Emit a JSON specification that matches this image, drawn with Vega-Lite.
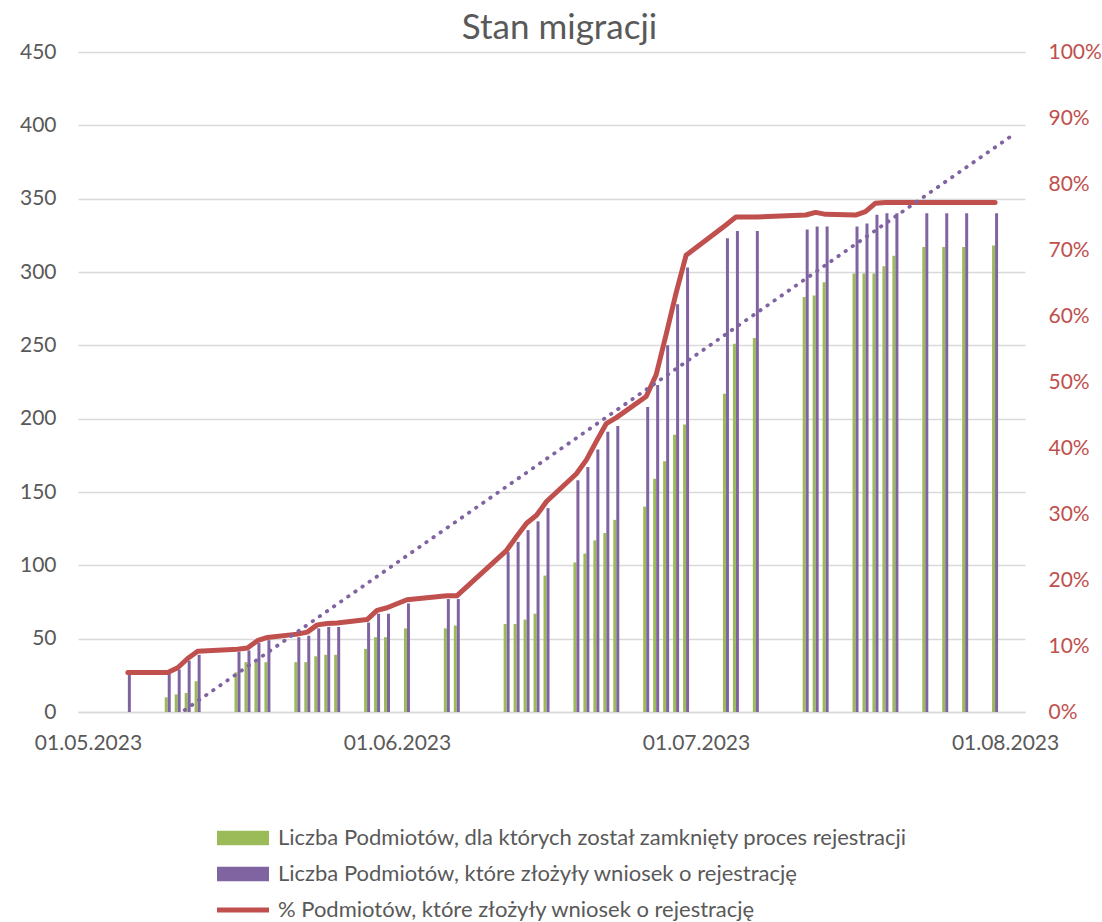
{
  "$schema": "https://vega.github.io/schema/vega-lite/v6.json",
  "autosize": "none",
  "width": 947,
  "height": 660,
  "padding": {"left": 78, "top": 52, "right": 77, "bottom": 210},
  "background": "white",
  "config": {
    "font": "Lato",
    "view": {"stroke": null},
    "axis": {"labelFont": "Lato", "labelColor": "#595959", "labelFontSize": 21, "ticks": false, "domain": false, "grid": false}
  },
  "title": {"text": "Stan migracji", "font": "Lato", "fontSize": 35, "fontWeight": "normal", "color": "#595959", "offset": -5, "anchor": "middle", "dx": 8},
  "data": {
    "format": {"parse": {"date": "date"}},
    "values": [
      {"date": "2023-05-05", "closed": 0, "submitted": 26, "pct": 0.060},
      {"date": "2023-05-09", "closed": 10, "submitted": 26, "pct": 0.060},
      {"date": "2023-05-10", "closed": 12, "submitted": 29, "pct": 0.067},
      {"date": "2023-05-11", "closed": 13, "submitted": 35, "pct": 0.081},
      {"date": "2023-05-12", "closed": 21, "submitted": 39, "pct": 0.092},
      {"date": "2023-05-16", "closed": 27, "submitted": 41, "pct": 0.095},
      {"date": "2023-05-17", "closed": 34, "submitted": 42, "pct": 0.097},
      {"date": "2023-05-18", "closed": 34, "submitted": 47, "pct": 0.108},
      {"date": "2023-05-19", "closed": 34, "submitted": 49, "pct": 0.113},
      {"date": "2023-05-22", "closed": 34, "submitted": 51, "pct": 0.118},
      {"date": "2023-05-23", "closed": 34, "submitted": 52, "pct": 0.121},
      {"date": "2023-05-24", "closed": 38, "submitted": 57, "pct": 0.132},
      {"date": "2023-05-25", "closed": 39, "submitted": 58, "pct": 0.134},
      {"date": "2023-05-26", "closed": 39, "submitted": 58, "pct": 0.135},
      {"date": "2023-05-29", "closed": 43, "submitted": 61, "pct": 0.140},
      {"date": "2023-05-30", "closed": 51, "submitted": 67, "pct": 0.154},
      {"date": "2023-05-31", "closed": 51, "submitted": 67, "pct": 0.158},
      {"date": "2023-06-02", "closed": 57, "submitted": 74, "pct": 0.170},
      {"date": "2023-06-06", "closed": 57, "submitted": 77, "pct": 0.176},
      {"date": "2023-06-07", "closed": 59, "submitted": 77, "pct": 0.176},
      {"date": "2023-06-12", "closed": 60, "submitted": 109, "pct": 0.245},
      {"date": "2023-06-13", "closed": 60, "submitted": 116, "pct": 0.266},
      {"date": "2023-06-14", "closed": 63, "submitted": 124, "pct": 0.286},
      {"date": "2023-06-15", "closed": 67, "submitted": 130, "pct": 0.298},
      {"date": "2023-06-16", "closed": 93, "submitted": 139, "pct": 0.319},
      {"date": "2023-06-19", "closed": 102, "submitted": 158, "pct": 0.361},
      {"date": "2023-06-20", "closed": 108, "submitted": 167, "pct": 0.382},
      {"date": "2023-06-21", "closed": 117, "submitted": 179, "pct": 0.410},
      {"date": "2023-06-22", "closed": 122, "submitted": 191, "pct": 0.437},
      {"date": "2023-06-23", "closed": 131, "submitted": 195, "pct": 0.446},
      {"date": "2023-06-26", "closed": 140, "submitted": 208, "pct": 0.478},
      {"date": "2023-06-27", "closed": 159, "submitted": 223, "pct": 0.511},
      {"date": "2023-06-28", "closed": 171, "submitted": 250, "pct": 0.572},
      {"date": "2023-06-29", "closed": 189, "submitted": 278, "pct": 0.635},
      {"date": "2023-06-30", "closed": 196, "submitted": 303, "pct": 0.692},
      {"date": "2023-07-04", "closed": 217, "submitted": 323, "pct": 0.738},
      {"date": "2023-07-05", "closed": 251, "submitted": 328, "pct": 0.750},
      {"date": "2023-07-07", "closed": 255, "submitted": 328, "pct": 0.750},
      {"date": "2023-07-12", "closed": 283, "submitted": 329, "pct": 0.753},
      {"date": "2023-07-13", "closed": 284, "submitted": 331, "pct": 0.757},
      {"date": "2023-07-14", "closed": 293, "submitted": 331, "pct": 0.754},
      {"date": "2023-07-17", "closed": 299, "submitted": 331, "pct": 0.753},
      {"date": "2023-07-18", "closed": 299, "submitted": 333, "pct": 0.758},
      {"date": "2023-07-19", "closed": 299, "submitted": 339, "pct": 0.771},
      {"date": "2023-07-20", "closed": 304, "submitted": 340, "pct": 0.772},
      {"date": "2023-07-21", "closed": 311, "submitted": 340, "pct": 0.772},
      {"date": "2023-07-24", "closed": 317, "submitted": 340, "pct": 0.772},
      {"date": "2023-07-26", "closed": 317, "submitted": 340, "pct": 0.772},
      {"date": "2023-07-28", "closed": 317, "submitted": 340, "pct": 0.772},
      {"date": "2023-07-31", "closed": 318, "submitted": 340, "pct": 0.772}
    ]
  },
  "encoding": {
    "x": {
      "field": "date",
      "type": "temporal",
      "title": null,
      "scale": {"type": "utc", "domain": [1682856000000, 1690977600000]},
      "axis": {
        "values": [
          {"year": 2023, "month": 5, "date": 1, "utc": true},
          {"year": 2023, "month": 6, "date": 1, "utc": true},
          {"year": 2023, "month": 7, "date": 1, "utc": true},
          {"year": 2023, "month": 8, "date": 1, "utc": true}
        ],
        "format": "%d.%m.%Y",
        "grid": false,
        "domain": true,
        "domainColor": "#D9D9D9",
        "domainWidth": 1.5,
        "labelPadding": 20,
        "labelFlush": false,
        "labelOverlap": false
      }
    }
  },
  "layer": [
    {
      "mark": {"type": "bar", "width": 3, "xOffset": -1.5},
      "encoding": {
        "y": {
          "field": "closed",
          "type": "quantitative",
          "scale": {"domain": [0, 450], "nice": false, "zero": true},
          "axis": {"orient": "left", "title": null, "values": [0, 50, 100, 150, 200, 250, 300, 350, 400, 450], "grid": true, "gridColor": "#D9D9D9", "gridWidth": 1.5, "labelPadding": 22}
        },
        "color": {
          "datum": "Liczba Podmiotów, dla których został zamknięty proces rejestracji",
          "scale": {
            "domain": [
              "Liczba Podmiotów, dla których został zamknięty proces rejestracji",
              "Liczba Podmiotów, które złożyły wniosek o rejestrację",
              "% Podmiotów, które złożyły wniosek o rejestrację"
            ],
            "range": ["#9BBB59", "#8064A2", "#C0504D"]
          },
          "legend": {
            "orient": "none",
            "legendX": 136,
            "legendY": 775,
            "direction": "vertical",
            "title": null,
            "labelFont": "Lato",
            "labelFontSize": 22,
            "labelColor": "#595959",
            "labelLimit": 0,
            "symbolSize": 256,
            "symbolStrokeWidth": 0,
            "symbolType": "M-1,-0.9H5.5V0.9H-1Z",
            "labelOffset": 42,
            "rowPadding": 14,
            "padding": 0,
            "encode": {
              "symbols": {
                "update": {
                  "shape": {"signal": "datum.value === '% Podmiotów, które złożyły wniosek o rejestrację' ? 'M-1,-0.3H5.5V0.3H-1Z' : 'M-1,-0.9H5.5V0.9H-1Z'"},
                  "fill": {"scale": "color", "field": "value"},
                  "stroke": {"value": "transparent"},
                  "strokeWidth": {"value": 0},
                  "opacity": {"value": 1}
                }
              }
            }
          }
        }
      }
    },
    {
      "mark": {"type": "bar", "width": 3, "xOffset": 1.5},
      "encoding": {
        "y": {"field": "submitted", "type": "quantitative", "scale": {"domain": [0, 450], "nice": false, "zero": true}, "axis": null},
        "color": {"datum": "Liczba Podmiotów, które złożyły wniosek o rejestrację"}
      }
    },
    {
      "mark": {"type": "line", "strokeWidth": 5, "strokeJoin": "round", "strokeCap": "round"},
      "encoding": {
        "y": {
          "field": "pct",
          "type": "quantitative",
          "scale": {"domain": [0, 1], "nice": false},
          "axis": {"orient": "right", "title": null, "format": ".0%", "values": [0, 0.1, 0.2, 0.3, 0.4, 0.5, 0.6, 0.7, 0.8, 0.9, 1], "labelColor": "#C0504D", "labelPadding": 23, "grid": false}
        },
        "color": {"datum": "% Podmiotów, które złożyły wniosek o rejestrację"}
      }
    },
    {
      "transform": [
        {"regression": "submitted", "on": "date", "method": "linear", "extent": [1683244800000, 1690934400000]}
      ],
      "mark": {"type": "line", "color": "#8064A2", "strokeWidth": 3.8, "strokeDash": [0.5, 8.15], "strokeCap": "round", "clip": true},
      "encoding": {
        "y": {"field": "submitted", "type": "quantitative", "scale": {"domain": [0, 450], "nice": false, "zero": true}, "axis": null}
      }
    }
  ],
  "resolve": {"scale": {"y": "independent"}}
}
